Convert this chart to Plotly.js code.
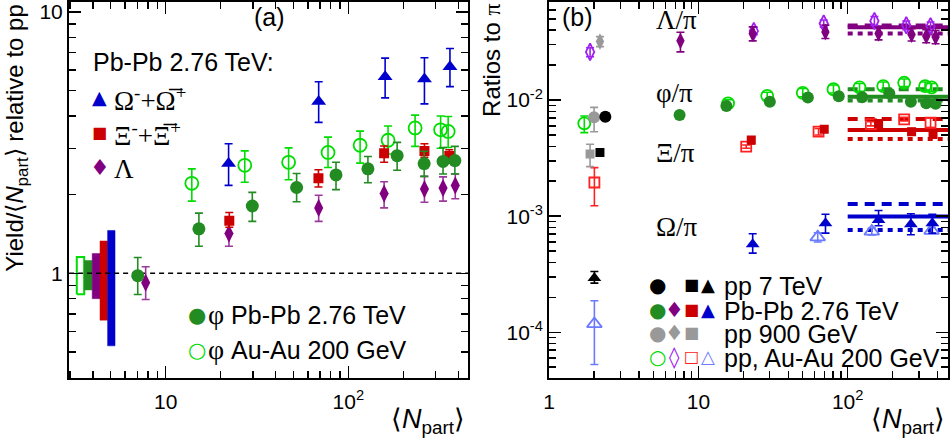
<!DOCTYPE html>
<html><head><meta charset="utf-8">
<script src="https://cdn.plot.ly/plotly-3.0.1.min.js"></script>
<style>html,body{margin:0;padding:0;background:#fff}</style>
</head><body>
<div id="chart" style="width:950px;height:445px"></div>
<script>
// ---------------- Panel (a): Yield/<Npart> relative to pp ----------------
const phiPbX  = [7.03, 15.2, 29.8, 52.1, 85.6, 128, 185, 260, 330, 383];
const phiPbY  = [0.98, 1.48, 1.81, 2.13, 2.38, 2.51, 2.82, 2.63, 2.68, 2.70];
const phiPbHi = [1.15, 1.70, 2.04, 2.41, 2.66, 2.80, 3.17, 2.93, 3.03, 3.06];
const phiPbLo = [0.83, 1.27, 1.58, 1.88, 2.09, 2.22, 2.48, 2.35, 2.40, 2.40];

const phiAuX  = [13.9, 27.1, 47.1, 77.4, 116, 165, 232, 320, 352];
const phiAuY  = [2.21, 2.59, 2.66, 2.90, 3.09, 3.23, 3.60, 3.54, 3.49];
const phiAuHi = [2.51, 2.94, 3.02, 3.32, 3.50, 3.66, 4.03, 4.00, 3.98];
const phiAuLo = [1.89, 2.23, 2.28, 2.54, 2.64, 2.86, 3.06, 3.01, 3.03];

const omegaX  = [22.1, 68.8, 159, 261, 360];
const omegaY  = [2.63, 4.54, 5.65, 5.54, 6.17];
const omegaHi = [3.13, 5.41, 6.66, 6.68, 7.25];
const omegaLo = [2.17, 3.78, 4.69, 4.45, 5.18];

const xiX  = [22.3, 68.6, 157, 261, 357];
const xiY  = [1.59, 2.31, 2.88, 2.94, 2.81];
const xiHi = [1.71, 2.49, 3.07, 3.13, 2.97];
const xiLo = [1.50, 2.14, 2.66, 2.78, 2.64];

const lamX  = [7.77, 22.2, 68.8, 157, 261, 330, 385];
const lamY  = [0.921, 1.42, 1.78, 2.02, 2.10, 2.12, 2.17];
const lamHi = [1.06, 1.58, 1.99, 2.24, 2.35, 2.34, 2.40];
const lamLo = [0.794, 1.27, 1.58, 1.78, 1.87, 1.89, 1.93];

// normalisation uncertainty boxes (phi AuAu, phi PbPb, Lambda, Xi, Omega)
const boxX0 = [3.26, 3.58, 3.96, 4.37, 4.81];
const boxX1 = [3.58, 3.96, 4.37, 4.81, 5.28];
const boxLo = [0.832, 0.864, 0.80, 0.662, 0.528];
const boxHi = [1.154, 1.12, 1.19, 1.33, 1.459];
const refLevel = [1, 1];
const refLevelX = [2.96, 452];

// ---------------- Panel (b): ratios to pi ----------------
// Lambda/pi
const lamPbBX  = [7.58, 23.1, 70.9, 161, 268, 336, 388];
const lamPbBY  = [0.0324, 0.0374, 0.0386, 0.0375, 0.0367, 0.0355, 0.0349];
const lamPbBHi = [0.0384, 0.0427, 0.0442, 0.0425, 0.0413, 0.0405, 0.0398];
const lamPbBLo = [0.0260, 0.0324, 0.0339, 0.0330, 0.0323, 0.0312, 0.0306];
const lamAuBX  = [1.88, 23.5, 69.1, 151, 247, 359];
const lamAuBY  = [0.0260, 0.0394, 0.0457, 0.0480, 0.0441, 0.0433];
const lamAuBHi = [0.0282, 0.0425, 0.0490, 0.0525, 0.0480, 0.0470];
const lamAuBLo = [0.0236, 0.0365, 0.0425, 0.0440, 0.0405, 0.0398];
const lam900X = [2.19], lam900Y = [0.0319], lam900Hi = [0.0352], lam900Lo = [0.0289];
// phi/pi
const phiPbBX  = [7.48, 15.4, 30.1, 54.1, 87.1, 125, 190, 265, 336, 388];
const phiPbBY  = [0.00743, 0.00888, 0.00967, 0.01054, 0.0108, 0.0106, 0.0114, 0.00967, 0.00937, 0.0093];
const phiPbBHi = [0.0079, 0.0095, 0.0103, 0.0112, 0.0115, 0.0113, 0.0121, 0.0103, 0.0100, 0.0099];
const phiPbBLo = [0.0069, 0.0083, 0.0091, 0.0099, 0.0101, 0.0099, 0.0107, 0.0091, 0.0088, 0.0087];
const phiAuBX  = [1.72, 15.8, 28.9, 50.0, 80.3, 120, 173, 239, 330, 365];
const phiAuBY  = [0.0063, 0.00937, 0.01089, 0.01156, 0.0124, 0.01285, 0.0132, 0.0141, 0.0132, 0.01285];
const phiAuBHi = [0.00729, 0.0101, 0.0117, 0.0126, 0.0135, 0.0139, 0.0143, 0.0152, 0.0143, 0.0139];
const phiAuBLo = [0.00524, 0.0087, 0.0101, 0.0107, 0.0115, 0.0119, 0.0122, 0.0131, 0.0122, 0.0119];
const phi900X = [2.0], phi900Y = [0.0071], phi900Hi = [0.00865], phi900Lo = [0.00534];
const phi7X = [2.38], phi7Y = [0.0072], phi7Hi = [0.0077], phi7Lo = [0.0067];
// Xi/pi
const xiPbBX  = [22.6, 69.6, 161, 268, 373];
const xiPbBY  = [0.00453, 0.0056, 0.0063, 0.00534, 0.0051];
const xiPbBHi = [0.0048, 0.0059, 0.0066, 0.0057, 0.0055];
const xiPbBLo = [0.0042, 0.0053, 0.0060, 0.0050, 0.0047];
const xiAuBX  = [2.01, 20.9, 63.8, 143, 239, 359];
const xiAuBY  = [0.00195, 0.00397, 0.00534, 0.00622, 0.00682, 0.00638];
const xiAuBHi = [0.00262, 0.0041, 0.0057, 0.0065, 0.0071, 0.0070];
const xiAuBLo = [0.00123, 0.00385, 0.0050, 0.0060, 0.0066, 0.0058];
const xi900X = [1.88], xi900Y = [0.00344], xi900Hi = [0.00416], xi900Lo = [0.00267];
const xi7X = [2.19], xi7Y = [0.00353];
// Omega/pi
const omPbBX  = [23.1, 71, 161, 265, 369];
const omPbBY  = [0.000574, 0.00087, 0.000929, 0.000853, 0.00087];
const omPbBHi = [0.000705, 0.00104, 0.00112, 0.00105, 0.00104];
const omPbBLo = [0.000481, 0.000714, 0.000826, 0.000692, 0.000714];
const omAuBX  = [2.01, 63, 145, 365];
const omAuBY  = [0.000118, 0.00066, 0.00074, 0.000752];
const omAuBHi = [0.000187, 0.00072, 0.00079, 0.00080];
const omAuBLo = [0.0000527, 0.00060, 0.00069, 0.00071];
const om7X = [2.01], om7Y = [0.000293], om7Hi = [0.000334], om7Lo = [0.000265];
// model lines (solid, dashed, dotted) for Lambda, phi, Xi, Omega
const modelX = [100, 470];
const lineSolid  = [0.0425, 0.01067, 0.00552, 0.000992];
const lineDashed = [0.0440, 0.01243, 0.00687, 0.001276];
const lineDotted = [0.0375, 0.0099, 0.00462, 0.000762];
const modelColors = ['#800080', '#228b22', '#cc0000', '#0000cc'];

// ---------------- colours ----------------
const C = {
  green: '#228b22', lime: '#00dd00', purple: '#800080', violet: '#a020f0',
  red: '#cc0000', blue: '#0000cc', lblue: '#6b7bff', gray: '#999999', black: '#000000'
};

function diff(a, b) { return a.map((v, i) => v - b[i]); }
function pts(xa, ya, hi, lo, color, symbol, size, axes, ebColor) {
  const t = {
    type: 'scatter', mode: 'markers', x: xa, y: ya, xaxis: axes[0], yaxis: axes[1],
    showlegend: false, hoverinfo: 'skip',
    marker: { color: color, symbol: symbol, size: size, line: { color: color, width: symbol.indexOf('open') >= 0 ? 1.8 : 0 } }
  };
  if (hi) {
    t.error_y = { type: 'data', symmetric: false, array: diff(hi, ya), arrayminus: diff(ya, lo),
      color: ebColor || color, thickness: 1.6, width: 4 };
  }
  return t;
}
const A = ['x', 'y'], B = ['x2', 'y2'];
const traces = [];

// boxes
const boxFill = ['#ffffff', C.green, C.purple, C.red, C.blue];
const boxLine = [C.lime, C.green, C.purple, C.red, C.blue];
boxX0.forEach((x0, i) => {
  traces.push({ type: 'scatter', mode: 'lines', xaxis: 'x', yaxis: 'y', showlegend: false, hoverinfo: 'skip',
    x: [x0, boxX1[i], boxX1[i], x0, x0], y: [boxLo[i], boxLo[i], boxHi[i], boxHi[i], boxLo[i]],
    fill: 'toself', fillcolor: boxFill[i], line: { color: boxLine[i], width: i === 0 ? 2 : 0.5 } });
});
traces.push({ type: 'scatter', mode: 'lines', xaxis: 'x', yaxis: 'y', x: refLevelX, y: refLevel,
  showlegend: false, hoverinfo: 'skip', line: { color: '#000', width: 1.5, dash: '5px,4px' } });

traces.push(pts(phiAuX, phiAuY, phiAuHi, phiAuLo, C.lime, 'circle-open', 13, A));
traces.push(pts(lamX, lamY, lamHi, lamLo, C.purple, 'diamond-tall', 13, A, '#9a3a9a'));
traces.push(pts(xiX, xiY, xiHi, xiLo, C.red, 'square', 10, A));
traces.push(pts(phiPbX, phiPbY, phiPbHi, phiPbLo, C.green, 'circle', 13, A));
traces.push(pts(omegaX, omegaY, omegaHi, omegaLo, C.blue, 'triangle-up', 13, A));

// panel b model lines
for (let i = 0; i < 4; i++) {
  traces.push({ type: 'scatter', mode: 'lines', xaxis: 'x2', yaxis: 'y2', x: modelX, y: [lineDotted[i], lineDotted[i]],
    showlegend: false, hoverinfo: 'skip', line: { color: modelColors[i], width: 4, dash: '5px,5px' } });
  traces.push({ type: 'scatter', mode: 'lines', xaxis: 'x2', yaxis: 'y2', x: modelX, y: [lineDashed[i], lineDashed[i]],
    showlegend: false, hoverinfo: 'skip', line: { color: modelColors[i], width: 4, dash: '10px,7px' } });
  traces.push({ type: 'scatter', mode: 'lines', xaxis: 'x2', yaxis: 'y2', x: modelX, y: [lineSolid[i], lineSolid[i]],
    showlegend: false, hoverinfo: 'skip', line: { color: modelColors[i], width: 4 } });
}
// panel b points
traces.push(pts(lamAuBX, lamAuBY, lamAuBHi, lamAuBLo, C.violet, 'diamond-tall-open', 12, B));
traces.push(pts(lamPbBX, lamPbBY, lamPbBHi, lamPbBLo, C.purple, 'diamond-tall', 12, B));
traces.push(pts(lam900X, lam900Y, lam900Hi, lam900Lo, C.gray, 'diamond-tall', 12, B));
traces.push(pts(phiAuBX, phiAuBY, phiAuBHi, phiAuBLo, C.lime, 'circle-open', 12, B));
traces.push(pts(phiPbBX, phiPbBY, phiPbBHi, phiPbBLo, C.green, 'circle', 12, B));
traces.push(pts(phi900X, phi900Y, phi900Hi, phi900Lo, C.gray, 'circle', 12, B));
traces.push(pts(phi7X, phi7Y, phi7Hi, phi7Lo, C.black, 'circle', 12, B));
traces.push(pts(xiAuBX, xiAuBY, xiAuBHi, xiAuBLo, '#ff2020', 'square-open', 10, B));
traces.push(pts(xiPbBX, xiPbBY, xiPbBHi, xiPbBLo, C.red, 'square', 9, B));
traces.push(pts(xi900X, xi900Y, xi900Hi, xi900Lo, C.gray, 'square', 9, B));
traces.push(pts(xi7X, xi7Y, null, null, C.black, 'square', 9, B));
traces.push(pts(omAuBX, omAuBY, omAuBHi, omAuBLo, C.lblue, 'triangle-up-open', 13, B));
traces.push(pts(omPbBX, omPbBY, omPbBHi, omPbBLo, C.blue, 'triangle-up', 12, B));
traces.push(pts(om7X, om7Y, om7Hi, om7Lo, C.black, 'triangle-up', 12, B));

// ---------------- layout ----------------
const W = 950, H = 445, ML = 69, MR = 1.7, MT = 1.7, MB = 66.5;
const PW = W - ML - MR, PH = H - MT - MB;
const px = p => (p - ML) / PW;
const py = p => (H - MB - p) / PH;
const SANS = 'Liberation Sans, Arial, Helvetica, sans-serif';
const SERIF = 'Liberation Serif, Times New Roman, serif';
const GLYPH = 'DejaVu Sans, sans-serif';
const PHI = '\u03C6';

function decades(lo, hi) {
  const out = [];
  for (let e = lo; e <= hi; e++) for (let m = 2; m <= 9; m++) out.push(m * Math.pow(10, e));
  return out;
}
const axCommon = {
  type: 'log', showgrid: false, zeroline: false, showline: true, linecolor: '#000', linewidth: 2,
  mirror: 'allticks', ticks: 'inside', ticklen: 12, tickwidth: 1.5, tickcolor: '#000',
  tickfont: { family: SANS, size: 21, color: '#000' }, automargin: false
};
const minorCommon = { tickmode: 'array', ticks: 'inside', ticklen: 7, tickwidth: 1.5, tickcolor: '#000' };
const layout = {
  width: W, height: H, paper_bgcolor: '#fff', plot_bgcolor: '#fff', showlegend: false,
  margin: { l: ML, r: MR, t: MT, b: MB, pad: 0 },
  xaxis: Object.assign({}, axCommon, { domain: [0, (468.3 - ML) / PW], anchor: 'y', range: [0.4707, 2.656],
    tickmode: 'array', tickvals: [10, 100], ticktext: ['10', '10<sup>2</sup>'], ticklabelstandoff: 4,
    minor: Object.assign({ tickvals: decades(0, 2).filter(v => v > 2.9 && v < 460) }, minorCommon) }),
  yaxis: Object.assign({}, axCommon, { domain: [0, 1], anchor: 'x', range: [-0.4003, 1.038],
    tickmode: 'array', tickvals: [1, 10], ticktext: ['1', '10'],
    minor: Object.assign({ tickvals: decades(-1, 0).filter(v => v > 0.39 && v < 10) }, minorCommon) }),
  xaxis2: Object.assign({}, axCommon, { domain: [(549.3 - ML) / PW, 1], anchor: 'y2', range: [0, 2.672],
    tickmode: 'array', tickvals: [1, 10, 100], ticktext: ['1', '10', '10<sup>2</sup>'], ticklabelstandoff: 4,
    minor: Object.assign({ tickvals: decades(0, 2).filter(v => v < 470) }, minorCommon) }),
  yaxis2: Object.assign({}, axCommon, { domain: [0, 1], anchor: 'x2', range: [-4.394, -1.155],
    tickmode: 'array', tickvals: [1e-4, 1e-3, 1e-2], ticktext: ['10<sup>-4</sup>', '10<sup>-3</sup>', '10<sup>-2</sup>'],
    minor: Object.assign({ tickvals: decades(-5, -2).filter(v => v > 4e-5 && v < 0.07) }, minorCommon) }),
  annotations: []
};
function ann(text, x, y, opt) {
  layout.annotations.push(Object.assign({ text: text, xref: 'paper', yref: 'paper', x: px(x), y: py(y),
    showarrow: false, xanchor: 'left', yanchor: 'middle', font: { family: SANS, size: 25, color: '#000' } }, opt || {}));
}
const ser = s => '<span style="font-family:' + SERIF + '">' + s + '</span>';
const serBig = s => '<span style="font-family:' + SERIF + ';font-size:28px">' + s + '</span>';
// axis titles
ann('Yield/⟨<i>N</i><sub>part</sub>⟩ relative to pp', 17, 274, { textangle: -90, xanchor: 'center', yanchor: 'bottom', font: { family: SANS, size: 24, color: '#000' } });
ann('Ratios to ' + ser('π'), 491, 119, { textangle: -90, xanchor: 'center', yanchor: 'bottom', font: { family: SANS, size: 24, color: '#000' } });
ann('⟨<i>N</i><sub>part</sub>⟩', 467, 422, { xanchor: 'right', font: { family: SANS, size: 27, color: '#000' } });
ann('⟨<i>N</i><sub>part</sub>⟩', 947, 422, { xanchor: 'right', font: { family: SANS, size: 27, color: '#000' } });
// panel labels
ann('(a)', 270, 17, { xanchor: 'center' });
ann('(b)', 560, 17);
// panel a legend
ann('Pb-Pb 2.76 TeV:', 91, 62);
ann('▲', 100, 97, { xanchor: 'center', font: { family: GLYPH, size: 19, color: C.blue } });
ann(ser('Ω<sup>-</sup>+Ω\u0305<sup>+</sup>'), 112, 99, { font: { family: SANS, size: 27, color: '#000' } });
ann('■', 100, 132, { xanchor: 'center', font: { family: GLYPH, size: 16, color: C.red } });
ann(ser('Ξ<sup>-</sup>+Ξ\u0305<sup>+</sup>'), 112, 134, { font: { family: SANS, size: 27, color: '#000' } });
ann('♦', 100, 168, { xanchor: 'center', font: { family: GLYPH, size: 22, color: C.purple } });
ann(ser('Λ'), 112, 169, { font: { family: SANS, size: 27, color: '#000' } });
ann('●', 197, 315, { xanchor: 'center', font: { family: GLYPH, size: 21, color: C.green } });
ann(serBig(PHI) + ' Pb-Pb 2.76 TeV', 206, 315);
ann('○', 197, 350, { xanchor: 'center', font: { family: GLYPH, size: 21, color: C.lime } });
ann(serBig(PHI) + ' Au-Au 200 GeV', 206, 350);
// panel b species labels
ann('Λ/π', 654, 20, { font: { family: SERIF, size: 27, color: '#000' } });
ann(PHI + '/π', 654, 93, { font: { family: SERIF, size: 27, color: '#000' } });
ann('Ξ/π', 654, 153, { font: { family: SERIF, size: 27, color: '#000' } });
ann('Ω/π', 654, 227, { font: { family: SERIF, size: 27, color: '#000' } });
// panel b legend
const legRows = [285, 310, 333, 357];
const legCols = [658, 675, 692, 708];
const legGlyphs = [
  [['●', C.black], null, ['■', C.black], ['▲', C.black]],
  [['●', C.green], ['♦', C.purple], ['■', C.red], ['▲', C.blue]],
  [['●', C.gray], ['♦', C.gray], ['■', C.gray], null],
  [['○', C.lime], ['◊', C.violet], ['□', '#ff2020'], ['△', C.lblue]]
];
const legTexts = ['pp 7 TeV', 'Pb-Pb 2.76 TeV', 'pp 900 GeV', 'pp, Au-Au 200 GeV'];
legRows.forEach((yy, r) => {
  legGlyphs[r].forEach((g, c) => {
    if (!g) return;
    const s = g[0];
    const sz = (s === '■' || s === '□') ? 16 : (s === '♦' || s === '◊') ? 21 : (s === '▲' || s === '△') ? 18 : 20;
    ann(s, legCols[c], yy, { xanchor: 'center', font: { family: GLYPH, size: sz, color: g[1] } });
  });
  ann(legTexts[r], 722, yy + 1);
});

Plotly.newPlot('chart', traces, layout, { staticPlot: true, displayModeBar: false });
</script>
</body></html>
